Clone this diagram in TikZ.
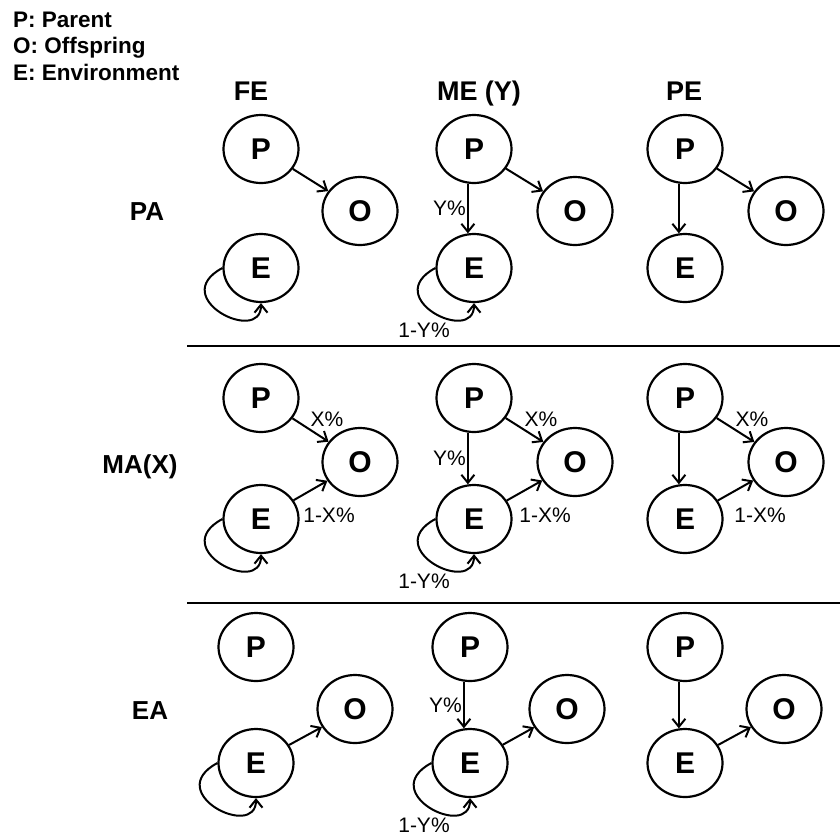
\documentclass[tikz,border=0pt]{standalone}
\usepackage{fontspec}
\setmainfont{Liberation Sans}
\usetikzlibrary{arrows.meta,shapes.geometric,calc}

% P, O and E states of one cell: prefix, P position, O position, E position
\newcommand\cellstates[7]{%
  \node[state] (#1P) at (#2,#3) {P};
  \node[state] (#1O) at (#4,#5) {O};
  \node[state] (#1E) at (#6,#7) {E};}
% environment feeding back on itself
\newcommand\selfloop[1]{%
  \draw[arr] (#1.west) .. controls +(-56,30) and +(0,42) .. (#1.south);}
% parent passing to environment (vertical, a little left of centre)
\newcommand\parenttoenv[2]{\draw[arr] (#1P.260) -- #2 (#1E.100);}

\begin{document}
\begin{tikzpicture}[x=1pt,y=-1pt,
  state/.style={draw,line width=2.2pt,ellipse,minimum width=75pt,minimum height=68pt,
    inner sep=0pt,font=\fontsize{30}{30}\selectfont\bfseries},
  arr/.style={line width=2pt,-{Straight Barb[length=8pt,width=13pt,line width=2pt]}},
  pct/.style={font=\fontsize{21}{21}\selectfont,inner sep=1pt},
  head/.style={font=\fontsize{27}{27}\selectfont\bfseries,anchor=base,inner sep=0pt},
  rowlbl/.style={font=\fontsize{26}{26}\selectfont\bfseries,inner sep=0pt},
  legend/.style={font=\fontsize{22.5}{22.5}\selectfont\bfseries,anchor=base west,inner sep=0pt},
  rule/.style={line width=2pt}]
\useasboundingbox (0,0) rectangle (840,838);

% legend
\node[legend] (lgP) at (13,27) {P: Parent};
\node[legend] (lgO) at (13,53) {O: Offspring};
\node[legend] (lgE) at (13,80) {E: Environment};

% column headers
\node[head] (hFE) at (251,100) {FE};
\node[head] (hME) at (479,100) {ME (Y)};
\node[head] (hPE) at (684,100) {PE};

% row headers
\node[rowlbl] (rPA) at (147,212) {PA};
\node[rowlbl] (rMA) at (140,467) {MA(X)};
\node[rowlbl] (rEA) at (150,711) {EA};

% row separators
\coordinate (s1a) at (187,346); \coordinate (s1b) at (840,346);
\coordinate (s2a) at (187,603); \coordinate (s2b) at (840,603);
\draw[rule] (s1a) -- (s1b);
\draw[rule] (s2a) -- (s2b);

% ---------- PA ----------
\cellstates{a}{261}{149}{360}{211}{261}{268}
\draw[arr] (aP) -- (aO);
\selfloop{aE}

\cellstates{b}{474}{149}{575}{211}{474}{268}
\parenttoenv{b}{node[pct,left] {Y\%}}
\draw[arr] (bP) -- (bO);
\selfloop{bE}
\node[pct] (bL) at ($(bE)+(-50,62)$) {1-Y\%};

\cellstates{c}{685}{149}{786}{211}{685}{268}
\parenttoenv{c}{}
\draw[arr] (cP) -- (cO);

% ---------- MA(X) ----------
\cellstates{d}{261}{398}{360}{462}{261}{519}
\draw[arr] (dP) -- node[pct,above right,pos=0.45] {X\%} (dO);
\draw[arr] (dE) -- (dO);
\node[pct] (dL) at ($(dE)+(68,-4)$) {1-X\%};
\selfloop{dE}

\cellstates{e}{474}{398}{575}{462}{474}{519}
\parenttoenv{e}{node[pct,left] {Y\%}}
\draw[arr] (eP) -- node[pct,above right,pos=0.45] {X\%} (eO);
\draw[arr] (eE) -- (eO);
\node[pct] (eL) at ($(eE)+(71,-4)$) {1-X\%};
\selfloop{eE}
\node[pct] (eL2) at ($(eE)+(-50,62)$) {1-Y\%};

\cellstates{f}{685}{398}{786}{462}{685}{519}
\parenttoenv{f}{}
\draw[arr] (fP) -- node[pct,above right,pos=0.45] {X\%} (fO);
\draw[arr] (fE) -- (fO);
\node[pct] (fL) at ($(fE)+(75,-4)$) {1-X\%};

% ---------- EA ----------
\cellstates{g}{256}{647}{355}{709}{256}{763}
\draw[arr] (gE) -- (gO);
\selfloop{gE}

\cellstates{h}{470}{647}{567}{709}{470}{763}
\parenttoenv{h}{node[pct,left] {Y\%}}
\draw[arr] (hE) -- (hO);
\selfloop{hE}
\node[pct] (hL) at ($(hE)+(-46,62)$) {1-Y\%};

\cellstates{i}{685}{647}{784}{709}{685}{763}
\parenttoenv{i}{}
\draw[arr] (iE) -- (iO);
\end{tikzpicture}
\end{document}
